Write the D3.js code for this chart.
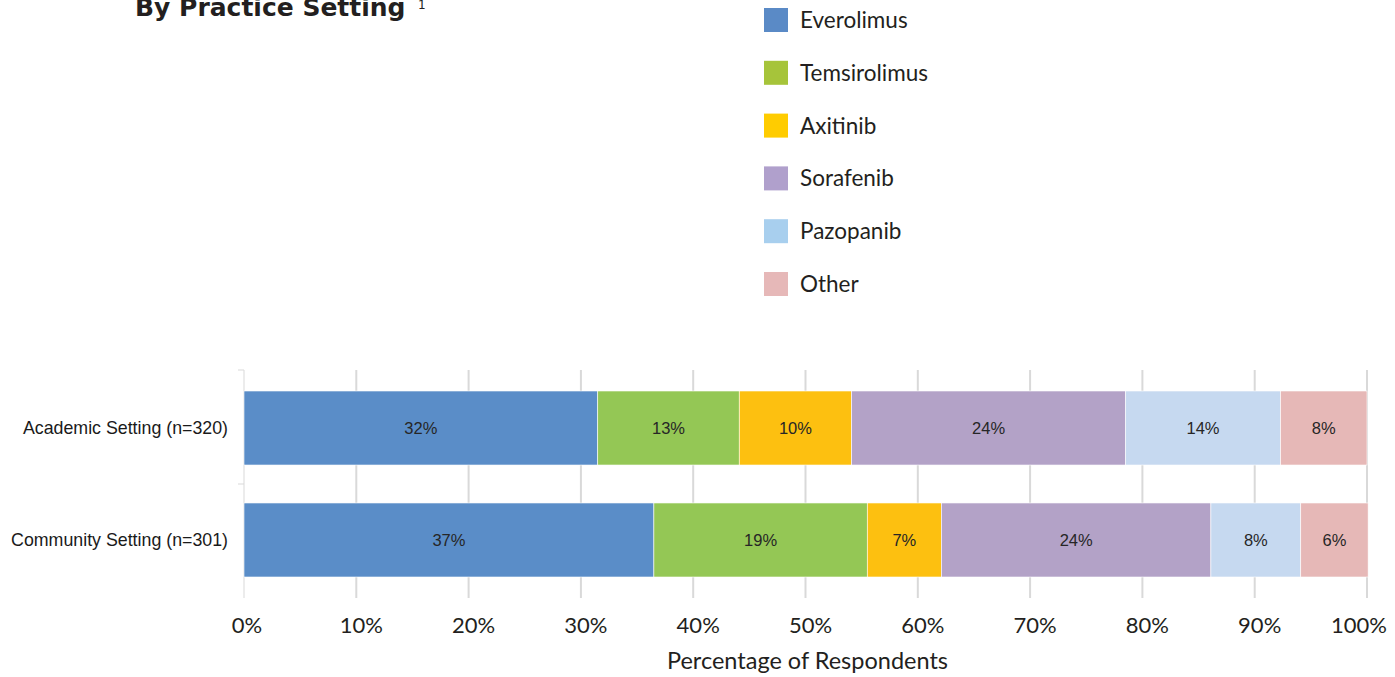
<!DOCTYPE html>
<html>
<head>
<meta charset="utf-8">
<script src="https://cdn.jsdelivr.net/npm/d3@7"></script>
<style>
  body { margin: 0; background: #fff; }
  svg { display: block; }
</style>
</head>
<body>
<svg id="chart" width="1395" height="677"></svg>
<script>
// data
const categories = ["Academic Setting (n=320)", "Community Setting (n=301)"]
const drugs = ["Everolimus", "Temsirolimus", "Axitinib", "Sorafenib", "Pazopanib", "Other"]
const academicValues = [31.5, 12.6, 10.0, 24.4, 13.8, 7.7]
const communityValues = [36.5, 19.0, 6.6, 24.0, 8.0, 6.0]
const academicLabels = ["32%", "13%", "10%", "24%", "14%", "8%"]
const communityLabels = ["37%", "19%", "7%", "24%", "8%", "6%"]
const tickValues = [0, 10, 20, 30, 40, 50, 60, 70, 80, 90, 100]

const barColors = ["#5A8DC8", "#94C755", "#FDC010", "#B3A2C7", "#C6D9F0", "#E6B8B7"]
const legendColors = ["#5A8AC6", "#A6C43A", "#FFCC00", "#B0A0CC", "#A8CFEE", "#E6B8B8"]

const geo = "'Lato', 'Open Sans', sans-serif"
const arial = "'Liberation Sans', Arial, sans-serif"

const svg = d3.select("#chart")

const margin = { left: 244, right: 28, top: 370, bottom: 79 }
const width = 1395 - margin.left - margin.right
const height = 677 - margin.top - margin.bottom

const x = d3.scaleLinear().domain([0, 100]).range([0, width])
const y = d3.scaleBand().domain(categories).range([0, height]).paddingInner(0.339).paddingOuter(0.1875)

// title (cut off at the top, as in the original)
svg.append("text")
    .attr("x", 135).attr("y", 16)
    .attr("font-family", "'DejaVu Sans', sans-serif")
    .attr("font-weight", "bold")
    .attr("font-size", 25)
    .attr("fill", "#231F20")
    .text("By Practice Setting")
svg.append("text")
    .attr("x", 418).attr("y", 9)
    .attr("font-family", "'DejaVu Sans', sans-serif")
    .attr("font-size", 12)
    .attr("fill", "#231F20")
    .text("1")

// legend
const legend = svg.append("g").attr("transform", "translate(764,8)")
const items = legend.selectAll("g").data(drugs).enter().append("g")
    .attr("transform", (d, i) => "translate(0," + (i * 52.8) + ")")
items.append("rect")
    .attr("width", 24).attr("height", 24)
    .attr("fill", (d, i) => legendColors[i])
items.append("text")
    .attr("x", 36).attr("y", 20)
    .attr("font-family", geo)
    .attr("font-size", 22.5)
    .attr("fill", "#231F20")
    .text(d => d)

const g = svg.append("g").attr("transform", "translate(" + margin.left + "," + margin.top + ")")

// gridlines
g.append("g").selectAll("line").data(tickValues.slice(1)).enter().append("line")
    .attr("x1", d => x(d)).attr("x2", d => x(d))
    .attr("y1", 0).attr("y2", height)
    .attr("stroke", "#D9D9D9").attr("stroke-width", 2)

// left axis line + category divider ticks
g.append("line").attr("x1", 0).attr("x2", 0).attr("y1", 0).attr("y2", height)
    .attr("stroke", "#D9D9D9").attr("stroke-width", 1)
g.selectAll(".cattick").data([0, height / 2]).enter().append("line")
    .attr("x1", -6).attr("x2", 0).attr("y1", d => d).attr("y2", d => d)
    .attr("stroke", "#D9D9D9").attr("stroke-width", 1)

// stacked bars
const rows = [
    { cat: categories[0], values: academicValues, labels: academicLabels },
    { cat: categories[1], values: communityValues, labels: communityLabels }
]
rows.forEach(row => {
    let acc = 0
    const segs = row.values.map((v, i) => {
        const s = { x0: acc, x1: acc + v, label: row.labels[i], color: barColors[i] }
        acc += v
        return s
    })
    const rg = g.append("g")
    rg.selectAll("rect").data(segs).enter().append("rect")
        .attr("x", d => x(d.x0))
        .attr("width", d => x(d.x1) - x(d.x0))
        .attr("y", y(row.cat))
        .attr("height", y.bandwidth())
        .attr("fill", d => d.color)
        .attr("stroke", "#fff").attr("stroke-width", 0.6)
    rg.selectAll("text").data(segs).enter().append("text")
        .attr("x", d => x((d.x0 + d.x1) / 2))
        .attr("y", y(row.cat) + y.bandwidth() / 2 + 6)
        .attr("text-anchor", "middle")
        .attr("font-family", arial)
        .attr("font-size", 16.5)
        .attr("fill", "#262626")
        .text(d => d.label)
})

// category labels
g.append("g").selectAll("text").data(categories).enter().append("text")
    .attr("x", -16)
    .attr("y", d => y(d) + y.bandwidth() / 2 + 6)
    .attr("text-anchor", "end")
    .attr("font-family", arial)
    .attr("font-size", 17.8)
    .attr("fill", "#1a1a1a")
    .text(d => d)

// x axis labels
g.append("g").selectAll("text").data(tickValues).enter().append("text")
    .attr("x", d => x(d) + (d === 0 ? 3 : d === 100 ? -8 : 5))
    .attr("y", height + 35)
    .attr("text-anchor", "middle")
    .attr("font-family", geo)
    .attr("font-size", 22)
    .attr("fill", "#231F20")
    .text(d => d + "%")

g.append("text")
    .attr("x", width / 2 + 2)
    .attr("y", height + 71)
    .attr("text-anchor", "middle")
    .attr("font-family", geo)
    .attr("font-size", 23.5)
    .attr("fill", "#231F20")
    .text("Percentage of Respondents")
</script>
</body>
</html>
